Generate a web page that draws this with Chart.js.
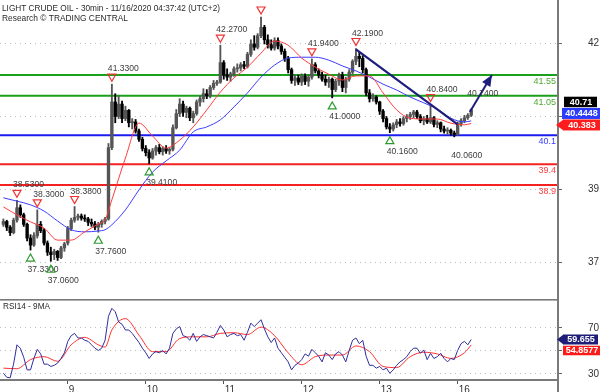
<!DOCTYPE html>
<html><head><meta charset="utf-8">
<script src="https://cdn.jsdelivr.net/npm/chart.js@4"></script>
<style>
html,body{margin:0;padding:0;background:#fff;}
#wrap{position:relative;width:600px;height:392px;overflow:hidden;background:#fff;}
#c1{position:absolute;left:0;top:0;}
#c2{position:absolute;left:0;top:299px;}
</style></head><body>
<div id="wrap"><canvas id="c1" width="600" height="299"></canvas><canvas id="c2" width="600" height="93"></canvas></div>
<script>
// ---------- DATA (hourly candles) ----------
const titleText = 'LIGHT CRUDE OIL - 30min - 11/16/2020 04:37:42 (UTC+2)';
const subtitleText = 'Research \u00A9 TRADING CENTRAL';
const rsiTitle = 'RSI14 - 9MA';

const opens = [
37.95,38.02,37.88,37.75,38.05,38.35,38.18,37.95,37.62,37.45,
37.68,37.95,37.80,37.50,37.28,37.22,37.30,37.15,37.38,37.50,
37.85,38.05,38.12,38.15,38.10,38.08,38.00,37.96,37.88,37.95,
38.02,38.08,39.80,40.90,40.55,40.85,40.50,40.70,40.40,40.42,
40.20,40.00,39.78,39.68,39.55,39.72,39.80,39.70,39.78,39.72,
39.76,40.28,40.62,40.85,40.65,40.75,40.52,40.62,40.90,40.98,
41.10,41.05,41.25,41.35,41.38,41.85,41.55,41.50,41.58,41.70,
41.72,41.80,41.76,42.05,42.30,42.22,42.50,42.70,42.40,42.28,
42.20,42.38,42.25,42.12,41.95,41.68,41.42,41.48,41.38,41.52,
41.40,41.50,41.80,41.65,41.55,41.45,41.38,41.45,41.20,41.40,
41.55,41.25,41.45,41.62,41.88,42.00,41.95,41.68,41.12,40.98,
41.02,40.90,40.68,40.50,40.30,40.25,40.35,40.42,40.38,40.50,
40.55,40.60,40.66,40.55,40.45,40.50,40.42,40.52,40.36,40.40,
40.25,40.20,40.22,40.15,40.12,40.38,40.45,40.52,40.58];
const highs = [
38.08,38.05,37.92,38.10,38.53,38.42,38.22,37.98,37.70,37.75,
38.30,38.02,37.85,37.55,37.40,37.35,37.32,37.42,37.52,37.90,
38.10,38.38,38.20,38.20,38.18,38.12,38.08,38.02,38.00,38.06,
38.12,39.90,41.33,41.10,41.05,40.92,40.80,40.72,40.50,40.48,
40.25,40.05,39.85,39.75,39.78,39.85,39.88,39.82,39.85,39.80,
40.35,40.72,40.98,40.92,40.80,40.78,40.68,40.95,41.05,41.22,
41.20,41.30,41.42,41.42,42.27,41.90,41.70,41.62,41.75,41.82,
41.85,41.88,42.10,42.40,42.50,42.55,42.95,42.75,42.52,42.40,
42.45,42.45,42.30,42.18,42.00,41.72,41.55,41.55,41.58,41.58,
41.55,41.94,41.85,41.70,41.62,41.55,41.50,41.48,41.45,41.60,
41.62,41.50,41.68,41.92,42.19,42.10,42.02,41.72,41.20,41.10,
41.05,40.92,40.72,40.55,40.38,40.40,40.48,40.50,40.55,40.60,
40.65,40.70,40.70,40.60,40.55,40.58,40.84,40.55,40.45,40.42,
40.32,40.28,40.25,40.20,40.42,40.50,40.58,40.62,40.74];
const lows = [
37.90,37.80,37.68,37.72,38.00,38.12,37.90,37.55,37.33,37.42,
37.62,37.75,37.45,37.20,37.06,37.10,37.08,37.12,37.30,37.45,
37.80,38.00,38.05,38.05,38.02,37.92,37.90,37.82,37.76,37.88,
37.96,38.05,39.75,40.40,40.50,40.40,40.45,40.30,40.25,40.15,
39.95,39.72,39.60,39.41,39.52,39.62,39.65,39.62,39.66,39.64,
39.72,40.25,40.55,40.55,40.52,40.45,40.40,40.58,40.80,40.90,
40.98,41.00,41.20,41.30,41.35,41.45,41.42,41.40,41.52,41.62,
41.65,41.70,41.72,42.00,42.15,42.18,42.45,42.30,42.20,42.15,
42.15,42.18,42.05,41.88,41.60,41.35,41.30,41.32,41.30,41.32,
41.28,41.45,41.60,41.48,41.40,41.30,41.25,41.00,41.15,41.30,
41.15,41.12,41.40,41.58,41.80,41.75,41.60,41.05,40.90,40.92,
40.85,40.60,40.42,40.25,40.16,40.20,40.28,40.32,40.34,40.42,
40.48,40.52,40.50,40.40,40.35,40.38,40.38,40.30,40.28,40.18,
40.15,40.12,40.10,40.06,40.10,40.32,40.40,40.48,40.55];
const closes = [
38.02,37.88,37.75,38.05,38.35,38.18,37.95,37.62,37.45,37.68,
37.95,37.80,37.50,37.28,37.22,37.30,37.15,37.38,37.48,37.85,
38.05,38.12,38.15,38.10,38.08,38.00,37.96,37.88,37.95,38.02,
38.08,39.80,40.90,40.55,40.85,40.50,40.70,40.40,40.42,40.20,
40.00,39.78,39.68,39.55,39.72,39.80,39.70,39.78,39.72,39.76,
40.28,40.62,40.85,40.65,40.75,40.52,40.62,40.90,40.98,41.10,
41.05,41.25,41.35,41.38,41.85,41.55,41.50,41.58,41.70,41.72,
41.80,41.76,42.05,42.30,42.22,42.50,42.70,42.40,42.28,42.20,
42.38,42.25,42.12,41.95,41.68,41.42,41.48,41.38,41.52,41.40,
41.50,41.80,41.65,41.55,41.45,41.38,41.45,41.20,41.40,41.55,
41.25,41.45,41.62,41.88,42.00,41.95,41.68,41.12,40.98,41.02,
40.90,40.68,40.50,40.30,40.25,40.35,40.42,40.38,40.50,40.55,
40.60,40.66,40.55,40.45,40.50,40.42,40.52,40.36,40.40,40.25,
40.20,40.22,40.15,40.12,40.38,40.45,40.52,40.58,40.71];

// moving averages, read at these candle positions
const maIdx  = [0,4,8,12,16,20,24,28,30,32,36,40,44,48,52,56,60,64,68,72,76,80,84,88,92,96,100,104,108,112,116,120,124,128,132,136,138];
const redMA  = [38.37,38.18,38.01,37.86,37.57,37.57,37.77,37.96,38.06,38.54,39.55,40.39,40.08,39.79,39.98,40.30,40.71,41.14,41.48,41.74,42.08,42.37,42.27,41.96,41.74,41.57,41.43,41.53,41.53,41.12,40.71,40.51,40.49,40.49,40.39,40.35,40.383];
const blueMA = [38.59,38.51,38.42,38.27,38.03,37.82,37.77,37.79,37.82,37.94,38.30,38.78,39.21,39.48,39.74,40.18,40.30,40.47,40.78,41.12,41.50,41.79,41.96,41.98,41.98,41.91,41.77,41.65,41.50,41.33,41.19,41.02,40.88,40.73,40.51,40.42,40.4448];

// RSI14 per candle and its 9MA
const rsi = [
30,26.5,26,38,55,52,44,33,33,43,
51,47,38,38,36,37,39,43,48,58,
63,65,61,61,59,58,55,52,50,52,
59,80,87,84,75,73,68,68,65,61,
57,52,48,43,47,49,48,50,47,52,
65,69,71,63,62,59,65,58,62,64,
63,62,61,66,72,68,62,64,65,63,
64,59,66,74,71,74,77,69,62,57,
61,52,48,44,40,33,37,39,42,47,
45,51,48,45,40,48,46,42,47,49,
46,40,50,59,61,56,59,45,37,37,
34.5,36,33,34.5,30,33,37,40,42,44.6,
49,52,52,47.5,50.5,42,47.5,43,44.6,47.5,
43,40,43,42,50,56,58,55,59.655];
const rsiMA = [34.5,34,42,44.6,40.5,55,61.5,55,53,68,78,63.5,49,49,60.5,62,62,65,65.6,64,70.5,63,48,37.5,44.6,46,46,54,49,36,35,44.6,48.5,47,43,48,54.8577];

// support / resistance levels
const levelVals   = [41.55, 41.05, 40.1, 39.4, 38.9];
const levelLabels = ['41.55','41.05','40.1','39.4','38.9'];

// swing highs / lows annotated on the chart
const peakIdx    = [4,10,21,32,64,76,91,104,126,138];
const peakVals   = [38.53,38.30,38.38,41.33,42.27,42.95,41.94,42.19,40.84,40.74];
const peakMarker = [1,1,1,1,1,1,1,1,1,0];
const peakLabel  = [1,1,1,1,1,0,1,1,1,1];
const troughIdx    = [8,14,28,43,97,114,133];
const troughVals   = [37.33,37.06,37.76,39.41,41.00,40.16,40.06];
const troughMarker = [1,1,1,1,1,1,0];

// trend line and projection arrow
const trendIdx  = [104, 134];
const trendVals = [42.17, 40.36];
const arrowIdx  = [137.6, 144.1];
const arrowVals = [40.66, 41.55];

// last values shown in the right margin
const lastClose = 40.71, lastBlueMA = 40.4448, lastRedMA = 40.383;
const lastRsi = 59.655, lastRsiMA = 54.8577;

// axes
const priceTickVals   = [42.32, 40.55, 38.80, 37.04];
const priceTickLabels = ['42', '', '39', '37'];
const rsiTickVals   = [70, 50, 30];
const rsiTickLabels = ['70', '50', '30'];
const dayTickIdx    = [19, 42, 65, 88, 111, 134];
const dayTickLabels = ['9', '10', '11', '12', '13', '16'];

// ---------- STYLE / LAYOUT ----------
const FONT = '"Liberation Sans", Arial, sans-serif';
Chart.defaults.font.family = FONT;
const X_MIN = -1, X_MAX = 163.6;
const Y_MIN = 36.15, Y_MAX = 43.36;
const RSI_MIN = 24.1, RSI_MAX = 95.2;
const levelColors = ['#1aa01a', '#1aa01a', '#1c1cf0', '#f52020', '#f52020'];
const levelTextColors = ['#4fa832', '#4fa832', '#3a3aff', '#ff4040', '#ff4040'];
const NAVY = '#1e1e7c';
const AXIS_GRAY = '#7a7a7a';

const idx = closes.map((_, i) => i);
const candleColors = closes.map((c, i) => c >= opens[i] ? '#555555' : '#000000');

function tri(ctx, x, y, dir, color) {
  ctx.beginPath();
  if (dir < 0) { ctx.moveTo(x - 4, y - 3.5); ctx.lineTo(x + 4, y - 3.5); ctx.lineTo(x, y + 3.5); }
  else { ctx.moveTo(x - 4, y + 3.5); ctx.lineTo(x + 4, y + 3.5); ctx.lineTo(x, y - 3.5); }
  ctx.closePath();
  ctx.strokeStyle = color; ctx.lineWidth = 1.2; ctx.stroke();
}
function box(ctx, text, x0, x1, cy, h, color, tipX) {
  ctx.fillStyle = color;
  ctx.fillRect(x0, cy - h / 2, x1 - x0, h);
  if (tipX !== undefined) {
    ctx.beginPath(); ctx.moveTo(tipX, cy); ctx.lineTo(x0 + 0.5, cy - h / 2); ctx.lineTo(x0 + 0.5, cy + h / 2);
    ctx.closePath(); ctx.fill();
  }
  ctx.fillStyle = '#ffffff'; ctx.font = 'bold 9px ' + FONT;
  ctx.textAlign = 'center'; ctx.textBaseline = 'middle';
  ctx.fillText(text, (x0 + x1) / 2 + 0.5, cy + 0.5, x1 - x0 - 2);
}
function axisLabels(ctx, scale, vals, labels) {
  ctx.fillStyle = '#333333'; ctx.font = '10px ' + FONT;
  ctx.textAlign = 'left'; ctx.textBaseline = 'middle';
  vals.forEach((v, k) => { if (labels[k]) ctx.fillText(labels[k], 588, scale.getPixelForValue(v) + 0.5); });
}

const mainPlugin = {
  id: 'mainDeco',
  afterDatasetsDraw(chart) {
    const { ctx, scales: { x, y } } = chart;
    ctx.save();
    ctx.font = '9px ' + FONT; ctx.textAlign = 'right'; ctx.textBaseline = 'middle';
    levelVals.forEach((v, k) => {
      ctx.fillStyle = levelTextColors[k];
      ctx.fillText(levelLabels[k], 556, y.getPixelForValue(v) + 6.5);
    });
    const ax0 = x.getPixelForValue(arrowIdx[0]), ay0 = y.getPixelForValue(arrowVals[0]);
    const ax1 = x.getPixelForValue(arrowIdx[1]), ay1 = y.getPixelForValue(arrowVals[1]);
    const ang = Math.atan2(ay1 - ay0, ax1 - ax0), L = 11, W = 4.8;
    ctx.beginPath(); ctx.moveTo(ax1, ay1);
    ctx.lineTo(ax1 - L * Math.cos(ang) + W * Math.sin(ang), ay1 - L * Math.sin(ang) - W * Math.cos(ang));
    ctx.lineTo(ax1 - L * Math.cos(ang) - W * Math.sin(ang), ay1 - L * Math.sin(ang) + W * Math.cos(ang));
    ctx.closePath(); ctx.fillStyle = NAVY; ctx.fill();
    ctx.font = '9px ' + FONT; ctx.textAlign = 'left'; ctx.textBaseline = 'alphabetic';
    peakIdx.forEach((i, k) => {
      const px = x.getPixelForValue(i), py = y.getPixelForValue(peakVals[k]);
      if (peakMarker[k]) tri(ctx, px, py - 6.5, -1, '#f03232');
      if (peakLabel[k]) { ctx.fillStyle = '#3c3c3c'; ctx.fillText(peakVals[k].toFixed(4), px - 4, py - 13, 31); }
    });
    troughIdx.forEach((i, k) => {
      const px = x.getPixelForValue(i), py = y.getPixelForValue(troughVals[k]);
      if (troughMarker[k]) tri(ctx, px, py + 7.5, 1, '#2c9a2c');
      ctx.fillStyle = '#3c3c3c'; ctx.fillText(troughVals[k].toFixed(4), px - 3, py + 21.5, 31);
    });
    ctx.restore();
  },
  afterDraw(chart) {
    const { ctx, scales: { y } } = chart;
    ctx.save();
    ctx.fillStyle = '#2a2a2a'; ctx.font = '9.5px ' + FONT; ctx.textAlign = 'left'; ctx.textBaseline = 'alphabetic';
    ctx.fillText(titleText, 2, 10.5, 218);
    ctx.fillText(subtitleText, 2, 20.5, 126);
    ctx.fillStyle = AXIS_GRAY; ctx.fillRect(557, 0, 2, chart.height);
    axisLabels(ctx, y, priceTickVals, priceTickLabels);
    const redCy = y.getPixelForValue(lastRedMA) + 1.5;
    const blueCy = redCy - 11.5, blackCy = blueCy - 11.5;
    box(ctx, lastRedMA.toFixed(3), 563, 600, redCy, 11, '#ff1c1c', 556);
    box(ctx, lastBlueMA.toFixed(4), 562, 600, blueCy, 11, '#2a3cff');
    box(ctx, lastClose.toFixed(2), 564, 597, blackCy, 10.5, '#000000');
    ctx.restore();
  }
};

const rsiPlugin = {
  id: 'rsiDeco',
  afterDraw(chart) {
    const { ctx, chartArea, scales: { y } } = chart;
    ctx.save();
    ctx.fillStyle = AXIS_GRAY;
    ctx.fillRect(0, 0, 558, 1.6);
    ctx.fillRect(0, chartArea.bottom - 1, 558, 2);
    ctx.fillRect(557, 0, 2, chart.height);
    ctx.fillStyle = '#2a2a2a'; ctx.font = '9px ' + FONT; ctx.textAlign = 'left'; ctx.textBaseline = 'alphabetic';
    ctx.fillText(rsiTitle, 3, 9.5, 47);
    axisLabels(ctx, y, rsiTickVals, rsiTickLabels);
    const cy = y.getPixelForValue(lastRsi);
    box(ctx, lastRsi.toFixed(3), 563, 598, cy, 10, '#1e1e78', 557);
    box(ctx, lastRsiMA.toFixed(4), 563, 600, cy + 11, 9.5, '#ff1a1a');
    ctx.restore();
  }
};

const yRight = (min, max, vals) => ({
  position: 'right', min, max, beginAtZero: false,
  afterFit(s) { s.width = 42; },
  afterBuildTicks(s) { s.ticks = vals.map(v => ({ value: v })); },
  ticks: { display: false },
  grid: { color: '#bdbdbd', lineWidth: 1, tickLength: 4, tickColor: '#666666' },
  border: { display: false, dash: [1, 4] }
});

new Chart(document.getElementById('c1'), {
  type: 'bar',
  data: {
    datasets: [
      ...levelVals.map((v, k) => ({
        type: 'line', data: [{ x: X_MIN, y: v }, { x: X_MAX, y: v }],
        borderColor: levelColors[k], borderWidth: 2, pointRadius: 0, order: 10
      })),
      { type: 'bar', data: idx.map(i => ({ x: i, y: [lows[i], highs[i]] })), backgroundColor: candleColors,
        barThickness: 1.2, grouped: false, order: 6 },
      { type: 'bar', data: idx.map(i => ({ x: i, y: [opens[i], closes[i]] })), backgroundColor: candleColors,
        barThickness: 2.7, minBarLength: 1, grouped: false, order: 5 },
      { type: 'line', data: maIdx.map((xv, k) => ({ x: xv, y: blueMA[k] })), borderColor: '#3c3cff',
        borderWidth: 1, pointRadius: 0, cubicInterpolationMode: 'monotone', order: 3 },
      { type: 'line', data: maIdx.map((xv, k) => ({ x: xv, y: redMA[k] })), borderColor: '#ff3c3c',
        borderWidth: 1, pointRadius: 0, cubicInterpolationMode: 'monotone', order: 2 },
      { type: 'line', data: trendIdx.map((xv, k) => ({ x: xv, y: trendVals[k] })), borderColor: NAVY,
        borderWidth: 2.2, pointRadius: 0, order: 1 },
      { type: 'line', data: arrowIdx.map((xv, k) => ({ x: xv, y: arrowVals[k] })), borderColor: NAVY,
        borderWidth: 2, pointRadius: 0, order: 1 }
    ]
  },
  options: {
    responsive: false, animation: false, events: [],
    layout: { padding: 0 },
    plugins: { legend: { display: false }, tooltip: { enabled: false } },
    scales: {
      x: { type: 'linear', min: X_MIN, max: X_MAX, offset: false, display: false },
      y: yRight(Y_MIN, Y_MAX, priceTickVals)
    }
  },
  plugins: [mainPlugin]
});

new Chart(document.getElementById('c2'), {
  type: 'line',
  data: {
    datasets: [
      { data: maIdx.map((xv, k) => ({ x: xv, y: rsiMA[k] })), borderColor: '#ff3030', borderWidth: 1,
        pointRadius: 0, cubicInterpolationMode: 'monotone', order: 2 },
      { data: idx.map(i => ({ x: i, y: rsi[i] })), borderColor: '#2e2e9e', borderWidth: 1,
        pointRadius: 0, order: 1 }
    ]
  },
  options: {
    responsive: false, animation: false, events: [],
    layout: { padding: 0 },
    plugins: { legend: { display: false }, tooltip: { enabled: false } },
    scales: {
      x: {
        type: 'linear', min: X_MIN, max: X_MAX, offset: false, position: 'bottom',
        afterFit(s) { s.height = 12; },
        afterBuildTicks(s) { s.ticks = dayTickIdx.map(v => ({ value: v })); },
        ticks: { callback: (v, i) => dayTickLabels[i], align: 'start', maxRotation: 0, minRotation: 0,
          autoSkip: false, padding: 0, labelOffset: 1, color: '#333333', font: { size: 10 } },
        grid: { drawOnChartArea: false, tickLength: 4, tickColor: '#555555', offset: false },
        border: { display: false }
      },
      y: yRight(RSI_MIN, RSI_MAX, rsiTickVals)
    }
  },
  plugins: [rsiPlugin]
});
</script>
</body></html>
